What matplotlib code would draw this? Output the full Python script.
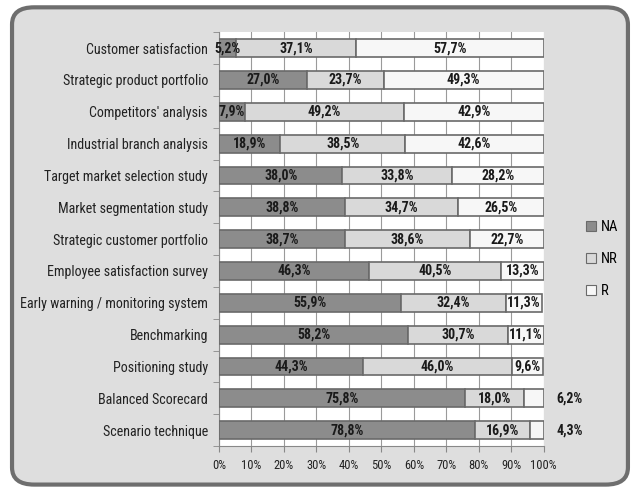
import matplotlib
matplotlib.use("Agg")
from matplotlib import pyplot as plt
from matplotlib import font_manager
from matplotlib.patches import FancyBboxPatch
import numpy as np

categories = ["Customer satisfaction", "Strategic product portfolio", "Competitors' analysis",
              "Industrial branch analysis", "Target market selection study", "Market segmentation study",
              "Strategic customer portfolio", "Employee satisfaction survey",
              "Early warning / monitoring system", "Benchmarking", "Positioning study",
              "Balanced Scorecard", "Scenario technique"]
na = [5.2, 27.0, 7.9, 18.9, 38.0, 38.8, 38.7, 46.3, 55.9, 58.2, 44.3, 75.8, 78.8]
nr = [37.1, 23.7, 49.2, 38.5, 33.8, 34.7, 38.6, 40.5, 32.4, 30.7, 46.0, 18.0, 16.9]
r = [57.7, 49.3, 42.9, 42.6, 28.2, 26.5, 22.7, 13.3, 11.3, 11.1, 9.6, 6.2, 4.3]
series_names = ["NA", "NR", "R"]
colors = ["#8c8c8c", "#d9d9d9", "#f7f7f7"]

names = set(f.name for f in font_manager.fontManager.ttflist)
wanted = [n for n in ["Liberation Sans Narrow", "Roboto Condensed", "PT Sans Narrow"] if n in names]
plt.rcParams['font.family'] = wanted[:1] + ['Liberation Sans', 'DejaVu Sans']

fig = plt.figure(figsize=(6.33, 4.88), dpi=100)
fig.patch.set_facecolor("white")

# background axes holding the rounded frame
bg = fig.add_axes([0, 0, 1, 1], zorder=-1)
bg.axis("off")
bg.set_xlim(0, 1)
bg.set_ylim(0, 1)
bg.add_patch(FancyBboxPatch((0.019, 0.007), 0.973, 0.978, boxstyle="round,pad=0,rounding_size=0.035",
                            facecolor="#dedede", edgecolor="#6e6e6e", linewidth=3))

ax = fig.add_axes([0.346, 0.086, 0.513, 0.848])
ax.set_facecolor("white")

y = np.arange(len(categories))
left = np.zeros(len(categories))
for vals, name, col in zip([na, nr, r], series_names, colors):
    vals = np.array(vals)
    ax.barh(y, vals, left=left, height=0.56, color=col, edgecolor="#6a6a6a",
            linewidth=1.2, label=name, zorder=3)
    for i, v in enumerate(vals):
        if name == "R" and i >= 11:
            ax.text(104, y[i], f"{v:.1f}%".replace(".", ","), ha="left", va="center",
                    fontsize=10, fontweight="bold", color="#1a1a1a", clip_on=False)
        else:
            ax.text(left[i] + v / 2, y[i], f"{v:.1f}%".replace(".", ","), ha="center", va="center",
                    fontsize=10, fontweight="bold", color="#1a1a1a", zorder=4)
    left += vals

ax.set_xlim(0, 100)
ax.set_ylim(len(categories) - 0.5, -0.5)
ax.set_xticks(np.arange(0, 101, 10))
ax.set_xticklabels([f"{t}%" for t in range(0, 101, 10)], fontsize=9, color="#222222")
ax.set_yticks(y)
ax.set_yticklabels(categories, fontsize=10.1, color="#222222")
ax.set_yticks(np.arange(-0.5, len(categories), 1), minor=True)
ax.tick_params(axis="y", which="major", length=0, pad=8)
ax.tick_params(axis="y", which="minor", length=4, color="#888888")
ax.tick_params(axis="x", length=4, color="#888888", pad=5)
ax.grid(axis="x", color="#9a9a9a", linewidth=0.8, zorder=0)
ax.set_axisbelow(True)
for s in ["top", "right"]:
    ax.spines[s].set_visible(False)
ax.spines["left"].set_color("#888888")
ax.spines["bottom"].set_color("#888888")

leg = fig.legend(loc="center left", bbox_to_anchor=(0.905, 0.469), frameon=False,
                 fontsize=10.5, handlelength=0.7, handleheight=0.7, handletextpad=0.3,
                 labelspacing=1.25)
for h in leg.legend_handles:
    h.set_linewidth(0.8)

fig.savefig("out.png", dpi=100)
